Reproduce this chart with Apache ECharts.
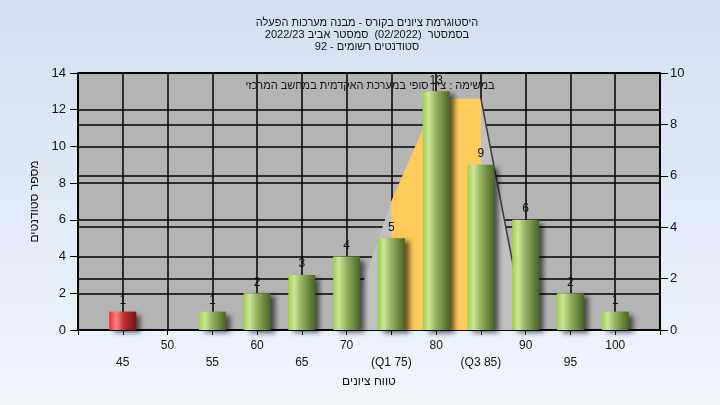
<!DOCTYPE html>
<html>
<head>
<meta charset="utf-8">
<script src="https://cdn.jsdelivr.net/npm/echarts@6/dist/echarts.min.js"></script>
<style>
html,body{margin:0;padding:0;background:#e6eef8;}
#c{width:720px;height:405px;direction:rtl;}
</style>
</head>
<body>
<div id="c"></div>
<script>
// ---- data ----
const titleLines = ['היסטוגרמת ציונים בקורס - מבנה מערכות הפעלה', 'בסמסטר  (02/2022)  סמסטר אביב 2022/23', 'סטודנטים רשומים - 92'];
const subtitle = 'במשימה : ציון סופי במערכת האקדמית במחשב המרכזי';
const xAxisTitle = 'טווח ציונים';
const yAxisTitle = 'מספר סטודנטים';
const gradeBins = [45, 50, 55, 60, 65, 70, 75, 80, 85, 90, 95, 100];
const binLabels = ['45', '50', '55', '60', '65', '70', '(Q1 75)', '80', '(Q3 85)', '90', '95', '100'];
const studentCounts = [1, 0, 1, 2, 3, 4, 5, 13, 9, 6, 2, 1];
const passGrade = 55;
const curveX = [70, 75, 80, 85, 90];
const curveY = [0, 5, 9, 9, 0];
const q1 = 75, q3 = 85;
const xRange = [40, 105, 5];
const leftRange = [0, 14, 2];
const rightRange = [0, 10, 2];

// ---- styling ----
const FONT = "'Liberation Sans', Arial, 'DejaVu Sans', sans-serif";
const TXT = '#141414';
function grad(stops) {
  return {type: 'linear', x: 0, y: 0, x2: 1, y2: 0,
    colorStops: stops.map(s => ({offset: s[0], color: s[1]}))};
}
const greenGrad = grad([[0, '#a2cd4a'], [0.22, '#cbe797'], [0.5, '#93b060'], [1, '#4a6522']]);
const redGrad = grad([[0, '#ff1c1c'], [0.25, '#ff8585'], [0.55, '#c02c2c'], [1, '#6e1616']]);

const barData = gradeBins.map((g, i) => ({
  value: [g, studentCounts[i]],
  itemStyle: {color: g < passGrade ? redGrad : greenGrad}
}));
const curveData = curveX.map((x, i) => [x, curveY[i]]);
const quartData = curveData.filter(p => p[0] >= q1 && p[0] <= q3);
const rightEdge = curveData.filter(p => p[0] >= q3);

const chart = echarts.init(document.getElementById('c'));
chart.setOption({
  animation: false,
  backgroundColor: {type: 'linear', x: 0, y: 0, x2: 0, y2: 1,
    colorStops: [{offset: 0, color: '#d3dff0'}, {offset: 1, color: '#eff6fe'}]},
  textStyle: {fontFamily: FONT},
  title: {
    text: titleLines.join('\n'), left: 362, top: 12, textAlign: 'center',
    textStyle: {fontSize: 11, fontWeight: 'normal', color: TXT, lineHeight: 12, fontFamily: FONT}
  },
  graphic: [{
    type: 'text', x: 370, y: 86, z: 100,
    style: {text: subtitle, fill: TXT, font: '11px ' + FONT, textAlign: 'center', textVerticalAlign: 'middle'}
  }],
  grid: {left: 78, right: 60, top: 73, bottom: 75, show: true,
    backgroundColor: '#b4b4b4', borderColor: '#000', borderWidth: 1.5},
  xAxis: {
    type: 'value', min: xRange[0], max: xRange[1], interval: xRange[2],
    name: xAxisTitle, nameLocation: 'middle', nameGap: 45,
    nameTextStyle: {fontSize: 12, color: TXT, fontFamily: FONT},
    axisLine: {lineStyle: {color: '#000', width: 1.5}},
    axisTick: {show: true, length: 5, lineStyle: {color: '#000'}},
    splitLine: {show: true, lineStyle: {color: '#000', width: 1.5}},
    axisLabel: {
      margin: 7, fontSize: 12, color: TXT, lineHeight: 17, fontFamily: FONT,
      formatter: v => {
        const i = gradeBins.indexOf(v);
        if (i < 0) return '';
        return v % 10 === 0 ? binLabels[i] : '\n' + binLabels[i];
      }
    }
  },
  yAxis: [{
    type: 'value', min: leftRange[0], max: leftRange[1], interval: leftRange[2],
    name: yAxisTitle, nameLocation: 'middle', nameGap: 37, nameRotate: 90,
    nameTextStyle: {fontSize: 12, color: TXT, fontFamily: FONT},
    axisLine: {show: true, lineStyle: {color: '#000', width: 1.5}},
    axisTick: {show: true, length: 8, lineStyle: {color: '#000'}},
    splitLine: {show: true, lineStyle: {color: '#000', width: 1.5}},
    axisLabel: {margin: 12, fontSize: 13, color: TXT, fontFamily: FONT}
  }, {
    type: 'value', min: rightRange[0], max: rightRange[1], interval: rightRange[2],
    position: 'right',
    axisLine: {show: true, lineStyle: {color: '#000', width: 1.5}},
    axisTick: {show: true, length: 8, lineStyle: {color: '#000'}},
    splitLine: {show: true, lineStyle: {color: '#000', width: 1.5}},
    axisLabel: {margin: 10, fontSize: 13, color: TXT, fontFamily: FONT}
  }],
  series: [{
    type: 'line', yAxisIndex: 1, data: curveData, symbol: 'none', silent: true,
    lineStyle: {width: 0}, areaStyle: {color: '#c0c0c0', opacity: 1}, z: 1
  }, {
    type: 'line', yAxisIndex: 1, data: quartData, symbol: 'none', silent: true,
    lineStyle: {width: 0}, areaStyle: {color: '#ffcb5a', opacity: 1}, z: 1
  }, {
    type: 'line', yAxisIndex: 1, data: rightEdge, symbol: 'none', silent: true,
    lineStyle: {width: 1.5, color: '#3c3c3c'}, z: 1
  }, {
    type: 'bar', yAxisIndex: 0, data: barData, barWidth: 27, z: 3,
    itemStyle: {shadowColor: 'rgba(0,0,0,0.6)', shadowBlur: 5, shadowOffsetX: 5, shadowOffsetY: 3},
    label: {show: true, position: 'top', distance: 5, fontSize: 12, color: TXT, fontFamily: FONT,
      formatter: p => p.value[1] ? String(p.value[1]) : ''}
  }]
});
</script>
</body>
</html>
